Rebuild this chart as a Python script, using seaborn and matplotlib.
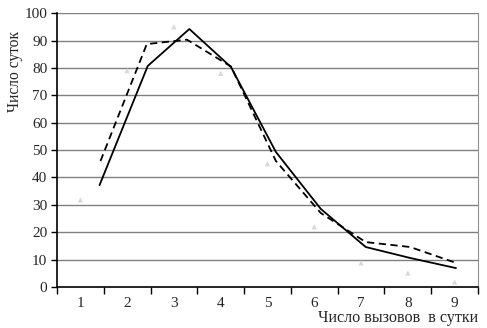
import matplotlib
matplotlib.use("Agg")
import matplotlib.pyplot as plt
import seaborn as sns
import numpy as np
import pandas as pd

categories = [1, 2, 3, 4, 5, 6, 7, 8, 9]
observed = [31.8, 79, 95, 78, 45, 22, 8.8, 5.1, 1.8]
solid_x = [1.41, 2.44, 3.33, 4.22, 5.18, 6.14, 7.10, 8.05, 9.03]
solid_y = [37.2, 80.7, 94.2, 80.3, 49.3, 28.5, 14.6, 10.6, 6.9]
dashed_x = [1.43, 2.42, 3.28, 4.22, 5.18, 6.14, 7.10, 8.05, 9.03]
dashed_y = [46.0, 88.7, 90.3, 80.5, 46.0, 27.0, 16.4, 14.6, 8.8]
xlabel = "Число вызовов  в сутки"
ylabel = "Число суток"

sns.set_style("white")
plt.rcParams['font.family'] = ['Liberation Serif', 'DejaVu Serif']

fig = plt.figure(figsize=(4.87, 3.28), dpi=100)
ax = fig.add_axes([0.117, 0.125, 0.8645, 0.835])

df_obs = pd.DataFrame({"x": categories, "y": observed})
df_s = pd.DataFrame({"x": solid_x, "y": solid_y})
df_d = pd.DataFrame({"x": dashed_x, "y": dashed_y})

for v in range(10, 101, 10):
    ax.axhline(v, color="#808080", lw=1.0, zorder=0)

sns.scatterplot(data=df_obs, x="x", y="y", ax=ax, marker="^", s=14,
                color="#d8d8d8", edgecolor="none", zorder=2)
sns.lineplot(data=df_d, x="x", y="y", ax=ax, color="black", lw=1.3,
             dashes=False, zorder=3, sort=False).lines[-1].set_dashes([4, 2.5])
sns.lineplot(data=df_s, x="x", y="y", ax=ax, color="black", lw=1.3,
             zorder=4, sort=False)

ax.set_xlim(0.5, 9.5)
ax.set_ylim(0, 100)
ax.set_yticks(range(0, 101, 10))
ax.set_xticks(categories)
ax.set_xticks(np.arange(0.5, 9.6, 1.0), minor=True)
ax.tick_params(axis="x", which="major", length=0, pad=7, labelsize=11)
ax.tick_params(axis="x", which="minor", length=5, width=1, color="black", direction="out", bottom=True)
ax.tick_params(axis="y", length=4, width=1, color="black", direction="out", left=True, labelsize=11, pad=3)

ax.spines["top"].set_visible(False)
ax.spines["right"].set_color("#909090")
ax.spines["left"].set_color("black")
ax.spines["bottom"].set_color("black")
ax.spines["left"].set_linewidth(1.2)
ax.spines["bottom"].set_linewidth(1.2)

ax.set_xlabel("")
ax.set_ylabel("")
fig.text(0.981, 0.006, xlabel, ha="right", va="bottom", fontsize=11.6)
fig.text(0.031, 0.783, ylabel, ha="center", va="center", rotation=90, fontsize=11.2)

fig.savefig("out.png", dpi=100)
